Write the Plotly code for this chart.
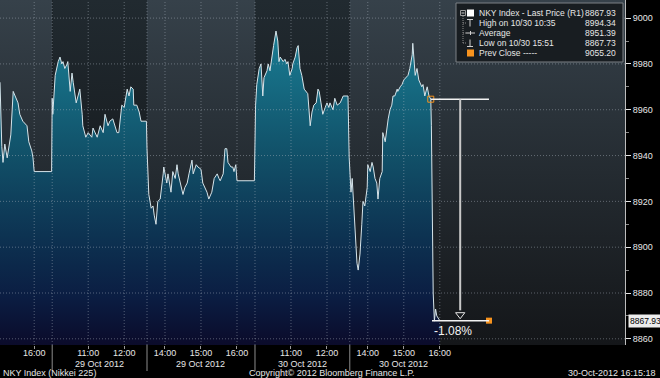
import plotly.graph_objects as go

# ---------------- data ----------------
# compressed trading-time axis (minutes, lunch / overnight gaps removed)
t_min = [0, 2, 3, 5, 8, 12, 13, 18, 22, 25, 30, 33, 38, 45, 48, 53, 55, 57, 86,
         87, 88, 92, 97, 100, 103, 105, 108, 112, 113, 117, 120, 122, 127, 130, 133, 137, 138,
         143, 147, 153, 155, 162, 167, 172, 175, 180, 183, 188, 195, 198, 203, 207, 212, 215,
         218, 222, 223, 228, 232, 235, 244,
         245, 247, 248, 252, 255, 257, 260, 263, 267, 272, 273, 278, 280, 285, 288, 292, 295,
         297, 300, 305, 308, 312, 315, 320, 322, 327, 330, 335, 338, 345, 348, 353, 357, 362,
         365, 367, 372, 375, 378, 380, 385, 388, 390, 393, 395, 424,
         426, 428, 432, 435, 438, 440, 445, 447, 450, 453, 456, 460, 463, 465, 467, 472, 475,
         478, 480, 483, 487, 488, 492, 495, 497, 500, 503, 507, 510, 513, 517, 520, 523, 527,
         530, 532, 535, 538, 542, 545, 548, 550, 555, 558, 562, 567, 572, 578, 580,
         582, 585, 587, 590, 593, 595, 597, 600, 603, 605, 608, 612, 613, 617, 620, 622, 625,
         628, 630, 633, 637, 638, 642, 645, 647, 650, 653, 655, 658, 662, 663, 667, 670, 673,
         677, 680, 683, 687, 688, 690, 692, 695, 698, 703, 705, 708, 712, 715, 718, 719, 720,
         721, 722, 724, 726, 728, 731, 733]
price = [8972, 8950, 8944, 8937, 8945, 8939, 8941, 8949, 8968, 8966, 8963, 8958, 8955, 8953,
         8946, 8942, 8939, 8933, 8933,
         8965, 8958, 8975, 8981, 8983, 8980, 8981, 8978, 8980, 8981, 8968, 8976, 8972, 8963,
         8966, 8969, 8958, 8953, 8948, 8950, 8948, 8952, 8948, 8953, 8950, 8958, 8953, 8955,
         8956, 8950, 8950, 8962, 8961, 8969, 8966, 8970, 8969, 8962, 8962, 8959, 8955, 8955,
         8943, 8930, 8923, 8917, 8918, 8914, 8910, 8920, 8921, 8932, 8935, 8928, 8932, 8924,
         8933, 8930, 8936, 8932, 8928, 8923, 8926, 8928, 8932, 8938, 8932, 8936, 8935, 8934,
         8928, 8924, 8921, 8924, 8930, 8932, 8930, 8929, 8932, 8943, 8943, 8937, 8935, 8935,
         8933, 8936, 8929, 8929,
         8962, 8971, 8978, 8980, 8966, 8974, 8977, 8980, 8977, 8983, 8988, 8994.34, 8990, 8981,
         8983, 8981, 8982, 8980, 8981, 8975, 8978, 8980, 8983, 8987, 8988, 8978, 8975, 8969,
         8968, 8967, 8953, 8959, 8962, 8963, 8969, 8968, 8963, 8958, 8961, 8963, 8961, 8963,
         8960, 8965, 8962, 8963, 8966, 8966, 8966,
         8939, 8924, 8930, 8915, 8898, 8893, 8890, 8897, 8910, 8920, 8918, 8926, 8936, 8933,
         8937, 8935, 8930, 8928, 8921, 8930, 8933, 8950, 8946, 8953, 8956, 8960, 8962, 8966,
         8966, 8969, 8968, 8970, 8971, 8973, 8974, 8975, 8978, 8984, 8989, 8980, 8975, 8978,
         8973, 8970, 8971, 8966, 8970, 8966, 8964.6, 8953, 8930, 8898, 8880, 8867.73, 8873,
         8870, 8869, 8867.93]

tick_min = [57, 147, 207, 275, 335, 395, 485, 545, 613, 673, 733]
tick_text = ["16:00", "11:00", "12:00", "14:00", "15:00", "16:00",
             "11:00", "12:00", "14:00", "15:00", "16:00"]

sess_start = [-93, 87, 245, 425, 583]
sess_end = [87, 245, 425, 583, 763]
sess_light = [True, False, True, False, True]
sess_date = ["26 Oct 2012", "29 Oct 2012", "29 Oct 2012", "30 Oct 2012", "30 Oct 2012"]

y_major = [8860, 8880, 8900, 8920, 8940, 8960, 8980, 9000]
y_minor = [8870, 8890, 8910, 8930, 8950, 8970, 8990]

avg_price = 8951.39
prev_close = 9055.20
high_label = "High on 10/30 10:35"
low_label = "Low on 10/30 15:51"
measure_start_t = 718
measure_end_t = 815
measure_arrow_t = 767

X_MAX = 1041.7
Y_MIN, Y_MAX = 8857.3, 9007.9

# ---------------- layout helpers ----------------
PW, PH = 625.0, 345.0
def PX(px):
    return px / PW
def PY(py):
    return 1 - py / PH

FONT = "Liberation Sans, Arial, sans-serif"
TXT = "#e6e6e6"
ORANGE = "#f7931e"

fig = go.Figure()

# background session bands
for i in range(len(sess_start)):
    x0 = sess_start[i]
    x1 = sess_end[i] if i < len(sess_start) - 1 else X_MAX + 10
    if sess_light[i]:
        cs = [[0, "#141619"], [0.5, "#242b31"], [1, "#36414a"]]
    else:
        cs = [[0, "#0e1012"], [0.5, "#181d21"], [1, "#212a30"]]
    fig.add_trace(go.Scatter(
        x=[x0, x1, x1, x0, x0], y=[Y_MIN - 5, Y_MIN - 5, Y_MAX + 5, Y_MAX + 5, Y_MIN - 5],
        mode="none", fill="toself",
        fillgradient=dict(type="vertical", colorscale=cs, start=Y_MIN, stop=Y_MAX),
        hoverinfo="skip", showlegend=False))

# price area
fig.add_trace(go.Scatter(
    x=t_min, y=price, mode="lines",
    line=dict(color="#d6e4ea", width=1),
    fill="tozeroy",
    fillgradient=dict(type="vertical",
                      colorscale=[[0, "#0b0b2a"], [0.15, "#0b1d42"], [0.35, "#0d3352"],
                                  [0.6, "#115068"], [0.85, "#166d84"], [1, "#1b7d94"]],
                      start=Y_MIN, stop=8995),
    hoverinfo="skip", showlegend=False))

last_price = price[-1]
hi_price = max(price)
lo_price = min(price)
m_start = price[t_min.index(measure_start_t)]
pct = (last_price - m_start) / m_start * 100

# measurement markers
fig.add_trace(go.Scatter(x=[measure_start_t], y=[m_start], mode="markers",
                         marker=dict(symbol="square-open", size=6, color=ORANGE, line=dict(width=1)),
                         hoverinfo="skip", showlegend=False))
fig.add_trace(go.Scatter(x=[measure_end_t], y=[last_price], mode="markers",
                         marker=dict(symbol="square", size=6, color=ORANGE),
                         hoverinfo="skip", showlegend=False))
fig.add_trace(go.Scatter(x=[measure_arrow_t], y=[last_price + 2.6], mode="markers",
                         marker=dict(symbol="triangle-down-open", size=8, color="#e8e8e8",
                                     line=dict(width=1)),
                         hoverinfo="skip", showlegend=False))

shapes = []
GRID = dict(color="rgba(175,185,195,0.45)", width=1, dash="1px,2px")
for yv in y_major:
    shapes.append(dict(type="line", xref="paper", x0=0, x1=1, yref="y", y0=yv, y1=yv,
                       line=GRID, layer="above"))
for xv in tick_min + sess_start[1:]:
    shapes.append(dict(type="line", xref="x", x0=xv, x1=xv, yref="paper", y0=0, y1=1,
                       line=GRID, layer="above"))
# session separators below axis
for xv in sess_start[1:]:
    shapes.append(dict(type="line", xref="x", x0=xv, x1=xv, yref="paper", y0=0, y1=PY(371),
                       line=dict(color="#8c8c8c", width=1), layer="above"))
# measurement lines
shapes.append(dict(type="line", xref="x", yref="y", x0=measure_start_t, x1=measure_end_t,
                   y0=m_start, y1=m_start, line=dict(color="#f2f2f2", width=1.5), layer="above"))
shapes.append(dict(type="line", xref="x", yref="y", x0=measure_start_t + 2, x1=measure_end_t,
                   y0=last_price, y1=last_price, line=dict(color="#f2f2f2", width=1.5), layer="above"))
shapes.append(dict(type="line", xref="x", yref="y", x0=measure_arrow_t, x1=measure_arrow_t,
                   y0=m_start, y1=last_price + 4.5, line=dict(color="#c8c8c8", width=2), layer="above"))

# legend box
shapes.append(dict(type="rect", xref="paper", yref="paper", x0=PX(456), x1=PX(623),
                   y0=PY(62), y1=PY(3), fillcolor="#181d21",
                   line=dict(color="#7c8186", width=1), layer="above"))
# tree node and connectors
shapes.append(dict(type="rect", xref="paper", yref="paper", x0=PX(460.5), x1=PX(465.5),
                   y0=PY(15.5), y1=PY(10.5), fillcolor="#181d21",
                   line=dict(color="#9a9a9a", width=1), layer="above"))
shapes.append(dict(type="line", xref="paper", yref="paper", x0=PX(461.5), x1=PX(464.5),
                   y0=PY(13), y1=PY(13), line=dict(color="#cfcfcf", width=1), layer="above"))
shapes.append(dict(type="line", xref="paper", yref="paper", x0=PX(463), x1=PX(463),
                   y0=PY(16), y1=PY(43), line=dict(color="#8a8a8a", width=1, dash="1px,1px"),
                   layer="above"))
for ry in [23, 33, 43]:
    shapes.append(dict(type="line", xref="paper", yref="paper", x0=PX(463), x1=PX(466),
                       y0=PY(ry), y1=PY(ry), line=dict(color="#8a8a8a", width=1, dash="1px,1px"),
                       layer="above"))
# row icons
shapes.append(dict(type="rect", xref="paper", yref="paper", x0=PX(467), x1=PX(474),
                   y0=PY(16.5), y1=PY(9.5), fillcolor="#ffffff", line=dict(width=0), layer="above"))
shapes.append(dict(type="rect", xref="paper", yref="paper", x0=PX(467), x1=PX(474),
                   y0=PY(56.5), y1=PY(49.5), fillcolor=ORANGE, line=dict(width=0), layer="above"))
ICON = dict(color="#d0d0d0", width=1)
shapes += [
    dict(type="line", xref="paper", yref="paper", x0=PX(467), x1=PX(473), y0=PY(19.5), y1=PY(19.5), line=ICON, layer="above"),
    dict(type="line", xref="paper", yref="paper", x0=PX(470), x1=PX(470), y0=PY(19.5), y1=PY(26.5), line=ICON, layer="above"),
    dict(type="line", xref="paper", yref="paper", x0=PX(466), x1=PX(475), y0=PY(33), y1=PY(33), line=ICON, layer="above"),
    dict(type="line", xref="paper", yref="paper", x0=PX(470.5), x1=PX(470.5), y0=PY(31), y1=PY(35), line=ICON, layer="above"),
    dict(type="line", xref="paper", yref="paper", x0=PX(470), x1=PX(470), y0=PY(39.5), y1=PY(46.5), line=ICON, layer="above"),
    dict(type="line", xref="paper", yref="paper", x0=PX(467), x1=PX(473), y0=PY(46.5), y1=PY(46.5), line=ICON, layer="above"),
]

ann = []
rows = [
    ("NKY Index - Last Price (R1)", f"{last_price:.2f}"),
    (high_label, f"{hi_price:.2f}"),
    ("Average", f"{avg_price:.2f}"),
    (low_label, f"{lo_price:.2f}"),
    ("Prev Close -----", f"{prev_close:.2f}"),
]
for k, (lab, val) in enumerate(rows):
    ry = 13 + 10 * k
    ann.append(dict(xref="paper", yref="paper", x=PX(477), y=PY(ry), text=lab, showarrow=False,
                    xanchor="left", yanchor="middle", font=dict(family=FONT, size=8.5, color=TXT)))
    ann.append(dict(xref="paper", yref="paper", x=PX(618), y=PY(ry), text=val, showarrow=False,
                    xanchor="right", yanchor="middle", font=dict(family=FONT, size=8.5, color=TXT)))

# date labels
for i in range(len(sess_start)):
    c = (sess_start[i] + sess_end[i]) / 2
    if c < 0:
        continue
    ann.append(dict(xref="x", yref="paper", x=c, y=PY(364), text=sess_date[i], showarrow=False,
                    xanchor="center", yanchor="middle", font=dict(family=FONT, size=9, color=TXT)))

# measurement text
ann.append(dict(xref="x", yref="y", x=measure_start_t + 2, y=last_price, yshift=-1,
                text=f"{pct:.2f}%", showarrow=False, xanchor="left", yanchor="top",
                font=dict(family=FONT, size=12, color="#f4f4f4")))

# last price tag
ann.append(dict(xref="paper", yref="y", x=1, y=last_price, xshift=3, text=f"{last_price:.2f}",
                showarrow=False, xanchor="left", yanchor="middle", bgcolor="#ececec",
                borderpad=1, font=dict(family=FONT, size=8.5, color="#000000")))

# footer
ann.append(dict(xref="paper", yref="paper", x=0, y=PY(373), text="NKY Index (Nikkei 225)",
                showarrow=False, xanchor="left", yanchor="middle", xshift=1,
                font=dict(family=FONT, size=9, color=TXT)))
ann.append(dict(xref="paper", yref="paper", x=PX(332), y=PY(373),
                text="Copyright© 2012 Bloomberg Finance L.P.",
                showarrow=False, xanchor="center", yanchor="middle",
                font=dict(family=FONT, size=9, color=TXT)))
ann.append(dict(xref="paper", yref="paper", x=PX(658), y=PY(373), text="30-Oct-2012 16:15:18",
                showarrow=False, xanchor="right", yanchor="middle",
                font=dict(family=FONT, size=9, color=TXT)))

fig.update_layout(
    width=660, height=378,
    margin=dict(l=0, r=35, t=0, b=33, pad=0),
    paper_bgcolor="#000000", plot_bgcolor="#000000",
    showlegend=False,
    shapes=shapes, annotations=ann,
    font=dict(family=FONT, size=9, color=TXT),
    xaxis=dict(range=[0, X_MAX], showgrid=False, zeroline=False, showline=False,
               tickvals=tick_min, ticktext=tick_text, ticks="outside", ticklen=3,
               tickcolor="#9a9a9a", tickfont=dict(family=FONT, size=9, color=TXT),
               ticklabelstandoff=-4, fixedrange=True),
    yaxis=dict(range=[Y_MIN, Y_MAX], side="right", showgrid=False, zeroline=False,
               showline=True, linecolor="#bdbdbd", linewidth=1, mirror=False,
               tickvals=y_major, ticktext=[str(v) for v in y_major],
               ticks="outside", ticklen=5, tickwidth=1, tickcolor="#e6e6e6",
               tickfont=dict(family=FONT, size=9, color=TXT),
               minor=dict(tickvals=y_minor, ticks="outside", ticklen=3, tickcolor="#8a8a8a"),
               fixedrange=True),
)

fig.write_html("out.html")
